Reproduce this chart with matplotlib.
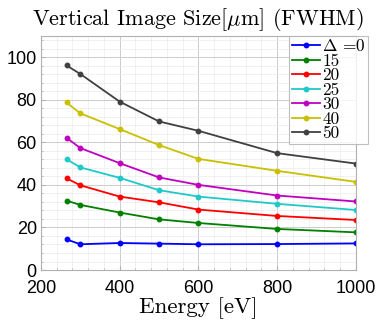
import matplotlib.pyplot as plt
from matplotlib.ticker import MultipleLocator

plt.rcParams['mathtext.fontset'] = 'cm'

energy = [265, 300, 400, 500, 600, 800, 1000]
labels = [r'$\Delta$ =0', '15', '20', '25', '30', '40', '50']
colors = ['#0000ff', '#008000', '#ff0000', '#20c8c8', '#c000c0', '#c8c000', '#404040']
sizes = [
    [14.4, 12.1, 12.7, 12.4, 12.1, 12.2, 12.5],
    [32.6, 30.6, 27.0, 23.8, 22.1, 19.3, 17.7],
    [43.1, 39.8, 34.5, 31.8, 28.4, 25.4, 23.5],
    [52.1, 48.2, 43.3, 37.5, 34.5, 31.1, 28.2],
    [62.1, 57.3, 50.2, 43.5, 40.0, 35.0, 32.2],
    [78.7, 73.6, 66.2, 58.7, 52.2, 46.6, 41.4],
    [96.1, 92.1, 79.1, 69.8, 65.4, 54.9, 50.0],
]

fig = plt.figure(figsize=(3.79, 3.23), dpi=100)
ax = fig.add_axes([0.108, 0.164, 0.831, 0.725])

for lab, col, ys in zip(labels, colors, sizes):
    ax.plot(energy, ys, color=col, marker='o', ms=3.2, lw=1.3, label=lab)

ax.set_xlim(200, 1000)
ax.set_ylim(0, 110)
ax.xaxis.set_major_locator(MultipleLocator(200))
ax.xaxis.set_minor_locator(MultipleLocator(40))
ax.yaxis.set_major_locator(MultipleLocator(20))
ax.yaxis.set_minor_locator(MultipleLocator(4))
ax.grid(which='major', color='#cccccc', lw=0.7)
ax.grid(which='minor', color='#ebebeb', lw=0.5)
ax.set_axisbelow(True)
for s in ax.spines.values():
    s.set_color('#b0b0b0')
ax.tick_params(which='both', colors='#b0b0b0', labelcolor='black', labelsize=13,
               direction='in', length=3)
ax.tick_params(which='minor', length=1.5)
ax.tick_params(axis='x', pad=7)
ax.tick_params(axis='y', pad=3)
for t in ax.get_xticklabels() + ax.get_yticklabels():
    t.set_fontfamily('Liberation Sans')

ax.set_title(r'Vertical Image Size[$\mu$m] (FWHM)', fontsize=16, family='cmr10', pad=8)
ax.set_xlabel('Energy [eV]', fontsize=16.5, family='cmr10', labelpad=0.5)

leg = ax.legend(loc='upper right', bbox_to_anchor=(1.04, 1.0), fancybox=False,
                prop={'family': 'cmr10', 'size': 12.5}, handlelength=1.6,
                handletextpad=0.15, labelspacing=-0.05, borderpad=0.15, borderaxespad=0)
leg.get_frame().set_edgecolor('#b0b0b0')
leg.get_frame().set_linewidth(0.8)

fig.savefig('out.png', dpi=100)
